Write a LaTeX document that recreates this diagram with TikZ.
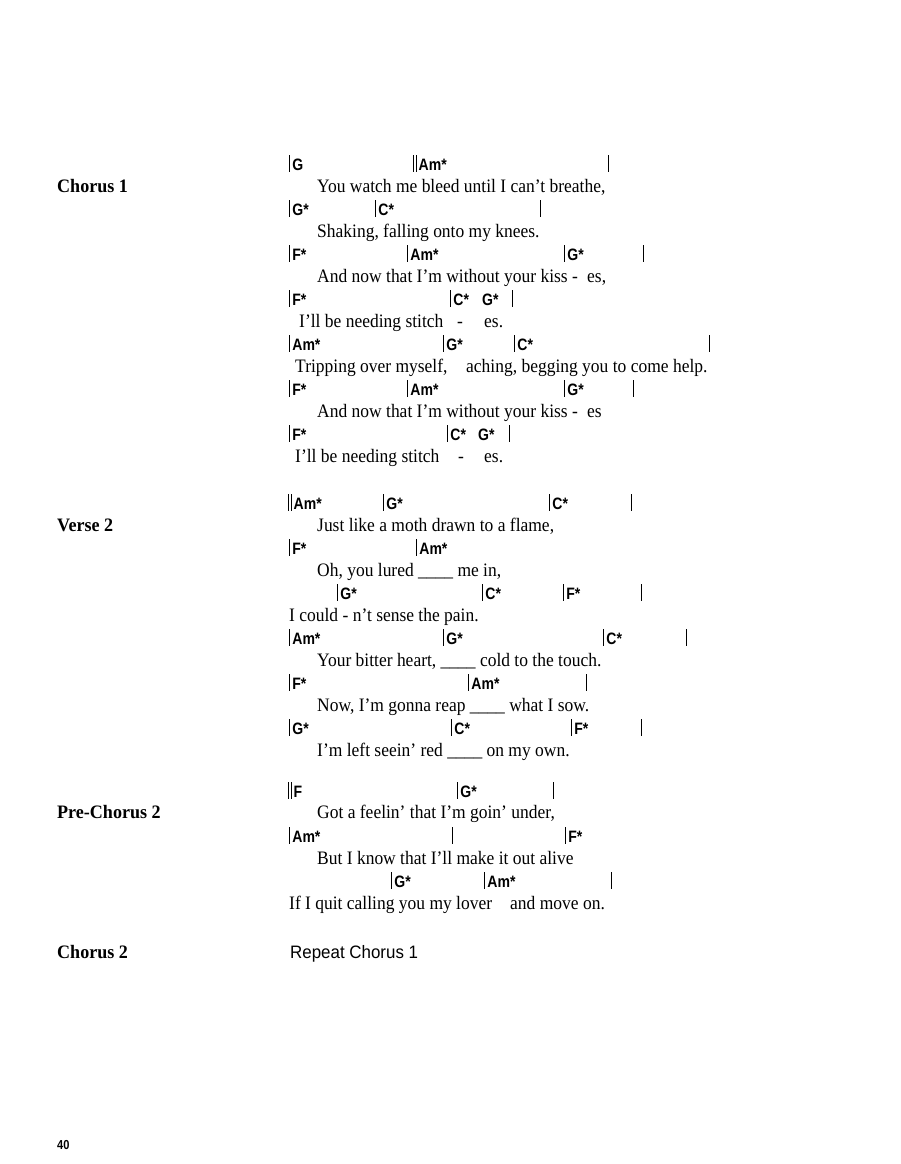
\documentclass[tikz,border=0pt]{standalone}
\usepackage{fontspec}
\newfontfamily\lyr[FakeStretch=0.92]{Liberation Serif}
\newfontfamily\chf[FakeStretch=0.85]{Liberation Sans}
\newfontfamily\plf[FakeStretch=0.94]{Liberation Sans}
\newfontfamily\lab[FakeStretch=0.95]{Liberation Serif}
\newcommand\cbar{\rule[-0.12em]{0.7pt}{1.0em}\hspace{2.5pt}}
\newcommand\cdbar{\rule[-0.12em]{0.7pt}{1.0em}\hspace{1.6pt}\rule[-0.12em]{0.7pt}{1.0em}\hspace{2.5pt}}
\tikzset{
 lyric/.style={anchor=base west,inner sep=0pt,font=\lyr\fontsize{19}{22}\selectfont},
 chord/.style={anchor=base west,inner sep=0pt,font=\chf\bfseries\fontsize{16.5}{18}\selectfont},
 section/.style={anchor=base west,inner sep=0pt,font=\lab\bfseries\fontsize{19}{22}\selectfont},
 plain/.style={anchor=base west,inner sep=0pt,font=\plf\fontsize{18}{20}\selectfont}
}
\newcommand\chd[3]{\node[chord] at (#1,#2) {#3};}
\newcommand\lyx[3]{\node[lyric] at (#1,#2) {#3};}
\begin{document}
\begin{tikzpicture}[x=1pt,y=-1pt]
\useasboundingbox (0,0) rectangle (900,1164);
% Chorus 1
\node[section] (s1) at (57,192) {Chorus 1};
\chd{289}{170}{\cbar G}\chd{413}{170}{\cdbar Am*}\chd{608}{170}{\cbar}
\lyx{317}{192}{You watch me bleed until I can’t breathe,}
\chd{289}{215}{\cbar G*}\chd{375}{215}{\cbar C*}\chd{540}{215}{\cbar}
\lyx{317}{237}{Shaking, falling onto my knees.}
\chd{289}{260}{\cbar F*}\chd{407}{260}{\cbar Am*}\chd{564}{260}{\cbar G*}\chd{643}{260}{\cbar}
\lyx{317}{282}{And now that I’m without your kiss}\lyx{572}{282}{-}\lyx{587}{282}{es,}
\chd{289}{305}{\cbar F*}\chd{450}{305}{\cbar C*}\chd{482}{305}{G*}\chd{512}{305}{\cbar}
\lyx{299}{327}{I’ll be needing stitch}\lyx{457}{327}{-}\lyx{484}{327}{es.}
\chd{289}{350}{\cbar Am*}\chd{443}{350}{\cbar G*}\chd{514}{350}{\cbar C*}\chd{709}{350}{\cbar}
\lyx{295}{372}{Tripping over myself,}\lyx{466}{372}{aching, begging you to come help.}
\chd{289}{395}{\cbar F*}\chd{407}{395}{\cbar Am*}\chd{564}{395}{\cbar G*}\chd{633}{395}{\cbar}
\lyx{317}{417}{And now that I’m without your kiss}\lyx{572}{417}{-}\lyx{587}{417}{es}
\chd{289}{440}{\cbar F*}\chd{447}{440}{\cbar C*}\chd{478}{440}{G*}\chd{509}{440}{\cbar}
\lyx{295}{462}{I’ll be needing stitch}\lyx{458}{462}{-}\lyx{484}{462}{es.}
% Verse 2
\node[section] (s2) at (57,531) {Verse 2};
\chd{288}{509}{\cdbar Am*}\chd{383}{509}{\cbar G*}\chd{549}{509}{\cbar C*}\chd{631}{509}{\cbar}
\lyx{317}{531}{Just like a moth drawn to a flame,}
\chd{289}{554}{\cbar F*}\chd{416}{554}{\cbar Am*}
\lyx{317}{576}{Oh, you lured \_\_\_\_ me in,}
\chd{337}{599}{\cbar G*}\chd{482}{599}{\cbar C*}\chd{563}{599}{\cbar F*}\chd{641}{599}{\cbar}
\lyx{289}{621}{I could - n’t sense the pain.}
\chd{289}{644}{\cbar Am*}\chd{443}{644}{\cbar G*}\chd{603}{644}{\cbar C*}\chd{686}{644}{\cbar}
\lyx{317}{666}{Your bitter heart, \_\_\_\_ cold to the touch.}
\chd{289}{689}{\cbar F*}\chd{468}{689}{\cbar Am*}\chd{586}{689}{\cbar}
\lyx{317}{711}{Now, I’m gonna reap \_\_\_\_ what I sow.}
\chd{289}{734}{\cbar G*}\chd{451}{734}{\cbar C*}\chd{571}{734}{\cbar F*}\chd{641}{734}{\cbar}
\lyx{317}{756}{I’m left seein’ red \_\_\_\_ on my own.}
% Pre-Chorus 2
\node[section] (s3) at (57,818) {Pre-Chorus 2};
\chd{288}{797}{\cdbar F}\chd{457}{797}{\cbar G*}\chd{553}{797}{\cbar}
\lyx{317}{818}{Got a feelin’ that I’m goin’ under,}
\chd{289}{842}{\cbar Am*}\chd{452}{842}{\cbar}\chd{565}{842}{\cbar F*}
\lyx{317}{864}{But I know that I’ll make it out alive}
\chd{391}{887}{\cbar G*}\chd{484}{887}{\cbar Am*}\chd{611}{887}{\cbar}
\lyx{289}{909}{If I quit calling you my lover}\lyx{510}{909}{and move on.}
% Chorus 2
\node[section] (s4) at (57,958) {Chorus 2};
\node[plain] (r) at (290,958) {Repeat Chorus 1};
\node[anchor=base west,inner sep=0pt,font=\chf\bfseries\fontsize{13}{14}\selectfont] (pg) at (57,1149) {40};
\end{tikzpicture}
\end{document}
